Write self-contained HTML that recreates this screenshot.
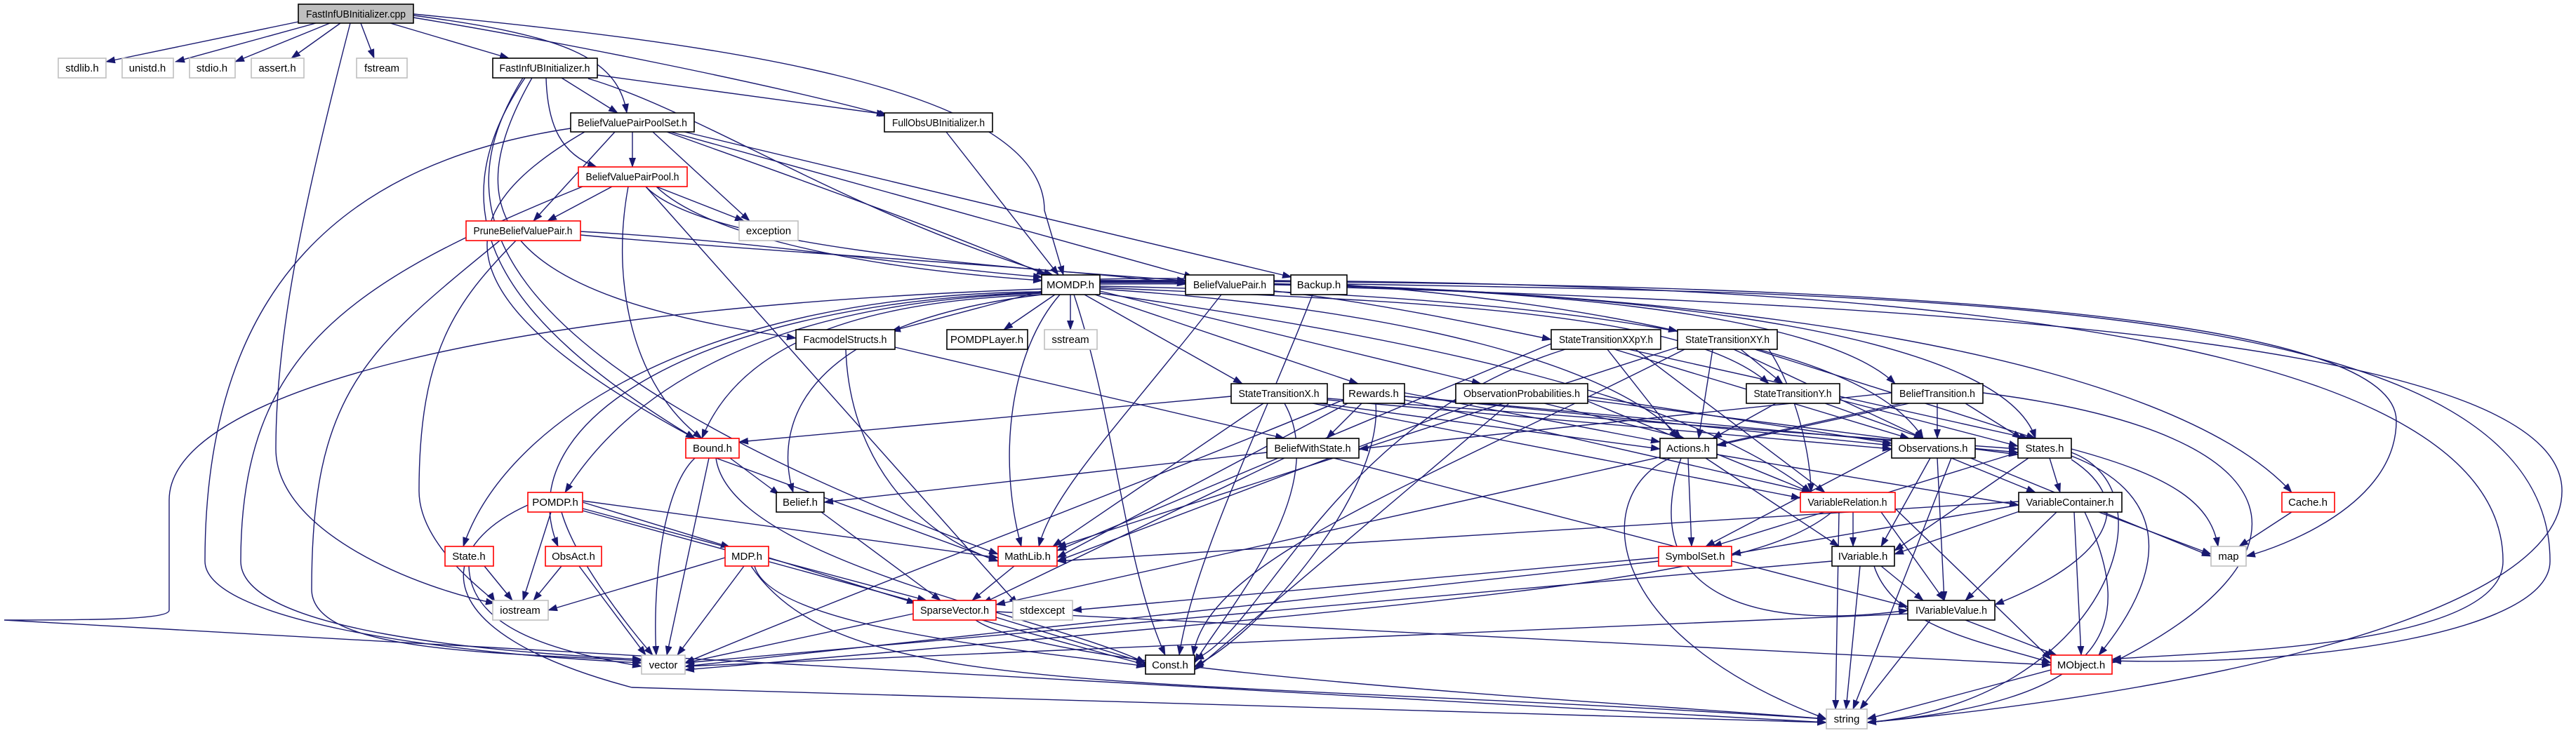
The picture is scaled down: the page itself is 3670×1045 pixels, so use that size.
<!DOCTYPE html>
<html><head><meta charset="utf-8">
<style>
html,body{margin:0;padding:0;background:#fff;}
svg{display:block;}
text{font-family:"Liberation Sans",sans-serif;font-size:15px;fill:#000;}
.e{fill:none;stroke:#191970;stroke-width:1.4;marker-end:url(#a);}
.n{fill:#fff;stroke:#000;stroke-width:1.6;}
.r{fill:#fff;stroke:#ff0000;stroke-width:1.6;}
.g{fill:#fff;stroke:#bfbfbf;stroke-width:1.6;}
</style></head><body>
<svg width="3670" height="1045" viewBox="0 0 3670 1045" xmlns="http://www.w3.org/2000/svg">
<defs><marker id="a" markerWidth="14" markerHeight="10" refX="13" refY="5" orient="auto" markerUnits="userSpaceOnUse"><path d="M0,0 L14,5 L0,10 z" fill="#191970"/></marker></defs>
<g>
<path class="e" d="M430,30 L151,88"/>
<path class="e" d="M450,33 L250,88"/>
<path class="e" d="M470,33 L335,88"/>
<path class="e" d="M485,33 L415,83"/>
<path class="e" d="M514,33 L533,83"/>
<path class="e" d="M556,33 L725,83"/>
<path class="e" d="M589,22 C800,50 880,80 893,161"/>
<path class="e" d="M589,25 C800,60 1100,120 1265,165"/>
<path class="e" d="M589,20 C1000,60 1488,120 1488,300 L1515,392"/>
<path class="e" d="M499,33 C430,300 393,480 393,640 C393,760 600,840 705,860"/>
<path class="e" d="M800,111 L880,161"/>
<path class="e" d="M851,107 L1262,163"/>
<path class="e" d="M838,112 C1000,160 1200,300 1500,392"/>
<path class="e" d="M778,111 C780,180 800,220 850,238"/>
<path class="e" d="M748,111 C620,300 700,450 990,625"/>
<path class="e" d="M758,111 C650,300 700,420 1134,482"/>
<path class="e" d="M745,111 C640,280 640,500 1422,790"/>
<path class="e" d="M901,188 L901,238"/>
<path class="e" d="M876,188 L760,315"/>
<path class="e" d="M930,188 L1068,315"/>
<path class="e" d="M935,266 L1060,315"/>
<path class="e" d="M950,188 C1150,260 1350,330 1490,392"/>
<path class="e" d="M955,188 L1700,395"/>
<path class="e" d="M975,188 L1840,395"/>
<path class="e" d="M813,183 C500,230 292,400 292,800 C292,880 600,930 914,945"/>
<path class="e" d="M833,188 C640,300 610,420 990,625"/>
<path class="e" d="M872,266 L780,315"/>
<path class="e" d="M935,266 C1000,330 1200,380 1485,400"/>
<path class="e" d="M920,266 C1000,350 1400,380 1690,400"/>
<path class="e" d="M830,266 C500,400 343,500 343,800 C343,900 700,930 914,940"/>
<path class="e" d="M895,266 C870,400 900,550 1000,625"/>
<path class="e" d="M920,266 L1450,862"/>
<path class="e" d="M827,330 C1100,345 1300,380 1485,395"/>
<path class="e" d="M827,335 C1100,360 1500,380 1690,405"/>
<path class="e" d="M735,343 C650,430 597,500 597,700 C597,780 700,850 705,858"/>
<path class="e" d="M712,343 C520,500 444,560 444,840 C444,930 700,930 914,942"/>
<path class="e" d="M1348,188 L1508,392"/>
<path class="e" d="M1484,415 L1270,472"/>
<path class="e" d="M1503,420 L1430,470"/>
<path class="e" d="M1525,420 L1525,470"/>
<path class="e" d="M1567,400 C1800,400 2000,440 2210,484"/>
<path class="e" d="M1567,398 C1900,390 2200,430 2390,472"/>
<path class="e" d="M1545,420 L1770,547"/>
<path class="e" d="M1560,420 L1935,547"/>
<path class="e" d="M1567,415 L2110,547"/>
<path class="e" d="M1567,410 C2000,430 2400,440 2520,547"/>
<path class="e" d="M1567,405 C2200,400 2600,450 2700,547"/>
<path class="e" d="M1567,412 C2000,440 2300,520 2395,625"/>
<path class="e" d="M1567,408 C2200,420 2650,480 2740,625"/>
<path class="e" d="M1567,403 C2300,400 2850,470 2900,625"/>
<path class="e" d="M1484,420 C1200,430 1050,500 1000,625"/>
<path class="e" d="M1484,420 C1150,460 1100,600 1130,702"/>
<path class="e" d="M1484,418 C1100,430 900,550 805,702"/>
<path class="e" d="M1484,416 C1000,420 720,600 660,779"/>
<path class="e" d="M1484,417 C1000,430 720,600 795,779"/>
<path class="e" d="M1510,420 C1440,500 1420,650 1455,779"/>
<path class="e" d="M1484,412 C700,440 241,560 241,713 L241,870 C241,884 120,884 6,884 L2602,1030"/>
<path class="e" d="M1567,418 C2000,480 2400,560 2580,702"/>
<path class="e" d="M1567,402 C2500,400 3100,520 3265,702"/>
<path class="e" d="M1567,401 C2500,400 3414,430 3414,600 C3414,720 3250,780 3200,793"/>
<path class="e" d="M1567,400 C2500,395 3566,440 3566,800 C3566,930 3100,930 3009,940"/>
<path class="e" d="M1530,420 C1590,600 1600,800 1660,934"/>
<path class="e" d="M1740,420 C1600,600 1500,700 1480,779"/>
<path class="e" d="M1919,405 C2800,420 3633,430 3633,800 C3633,900 3300,950 3009,942"/>
<path class="e" d="M1919,410 C2900,440 3650,500 3650,700 C3650,900 3000,1000 2660,1030"/>
<path class="e" d="M1870,420 C1800,600 1700,800 1680,934"/>
<path class="e" d="M1205,498 C1210,650 1300,760 1422,800"/>
<path class="e" d="M1275,495 L1830,625"/>
<path class="e" d="M2290,498 L2390,625"/>
<path class="e" d="M2300,498 L2720,625"/>
<path class="e" d="M2320,498 L2890,625"/>
<path class="e" d="M2330,498 L2600,702"/>
<path class="e" d="M2210,490 L1506,785"/>
<path class="e" d="M2230,498 C1900,600 1800,900 1702,940"/>
<path class="e" d="M2440,498 L2420,625"/>
<path class="e" d="M2470,498 L2740,625"/>
<path class="e" d="M2500,498 L2900,625"/>
<path class="e" d="M2480,498 L2540,547"/>
<path class="e" d="M2520,498 C2560,560 2580,650 2580,702"/>
<path class="e" d="M2390,495 L1506,780"/>
<path class="e" d="M2400,498 C2000,700 1720,800 1700,934"/>
<path class="e" d="M1754,565 L1053,630"/>
<path class="e" d="M1880,575 L2365,640"/>
<path class="e" d="M1891,570 L2695,640"/>
<path class="e" d="M1891,568 L2875,640"/>
<path class="e" d="M1870,575 L2565,710"/>
<path class="e" d="M1800,575 L1500,779"/>
<path class="e" d="M1830,575 C1900,700 1740,880 1702,945"/>
<path class="e" d="M1940,575 L1890,625"/>
<path class="e" d="M2001,560 L2365,630"/>
<path class="e" d="M2001,565 L2695,635"/>
<path class="e" d="M2001,565 L2875,645"/>
<path class="e" d="M2001,570 L2580,702"/>
<path class="e" d="M1920,575 L1506,795"/>
<path class="e" d="M1960,575 C1970,700 1800,900 1702,950"/>
<path class="e" d="M1914,570 C1600,700 1200,850 976,945"/>
<path class="e" d="M2200,575 L2400,625"/>
<path class="e" d="M2262,565 L2695,632"/>
<path class="e" d="M2262,570 L2875,648"/>
<path class="e" d="M2262,572 L2580,702"/>
<path class="e" d="M2100,575 L1506,800"/>
<path class="e" d="M2150,575 L1702,955"/>
<path class="e" d="M2530,575 L2440,625"/>
<path class="e" d="M2600,575 L2740,625"/>
<path class="e" d="M2621,570 L2875,636"/>
<path class="e" d="M2695,560 L1936,640"/>
<path class="e" d="M2720,575 L2446,635"/>
<path class="e" d="M2760,575 L2760,625"/>
<path class="e" d="M2800,575 L2880,625"/>
<path class="e" d="M2710,575 L1419,862"/>
<path class="e" d="M2825,560 C3300,620 3300,800 3009,945"/>
<path class="e" d="M1805,645 L1174,716"/>
<path class="e" d="M1830,653 L1400,860"/>
<path class="e" d="M1900,653 L2718,865"/>
<path class="e" d="M1040,653 L1110,705"/>
<path class="e" d="M1010,653 L950,934"/>
<path class="e" d="M1020,653 L1422,800"/>
<path class="e" d="M1020,653 C1040,800 1500,880 1632,945"/>
<path class="e" d="M990,653 C940,700 930,850 935,934"/>
<path class="e" d="M1170,730 L1340,856"/>
<path class="e" d="M785,730 L745,856"/>
<path class="e" d="M800,730 C820,800 900,900 930,934"/>
<path class="e" d="M830,716 L1040,780"/>
<path class="e" d="M830,725 L1320,856"/>
<path class="e" d="M830,728 L1640,950"/>
<path class="e" d="M830,714 L1422,795"/>
<path class="e" d="M752,720 C620,780 600,900 900,980 L2602,1030"/>
<path class="e" d="M690,807 L730,856"/>
<path class="e" d="M668,807 C670,900 800,930 914,950"/>
<path class="e" d="M800,807 L760,856"/>
<path class="e" d="M825,807 L920,934"/>
<path class="e" d="M1033,795 L781,870"/>
<path class="e" d="M1060,807 L965,934"/>
<path class="e" d="M1095,795 L1305,860"/>
<path class="e" d="M1075,807 C1100,900 1500,930 1632,950"/>
<path class="e" d="M1070,807 C1200,1000 1600,960 2602,1025"/>
<path class="e" d="M1445,807 L1385,856"/>
<path class="e" d="M1301,875 L976,945"/>
<path class="e" d="M1419,880 L1632,945"/>
<path class="e" d="M1390,884 C1500,960 2300,1000 2602,1025"/>
<path class="e" d="M1419,872 L2922,948"/>
<path class="e" d="M2405,653 L2410,779"/>
<path class="e" d="M2430,653 L2620,779"/>
<path class="e" d="M2380,653 C2270,700 2270,900 2602,1025"/>
<path class="e" d="M2446,648 L2876,720"/>
<path class="e" d="M2395,653 C2330,850 2500,900 2718,870"/>
<path class="e" d="M2695,640 L2430,779"/>
<path class="e" d="M2750,653 L2680,779"/>
<path class="e" d="M2760,653 L2770,856"/>
<path class="e" d="M2780,653 L2640,1011"/>
<path class="e" d="M2780,653 L2900,702"/>
<path class="e" d="M2800,650 L3150,793"/>
<path class="e" d="M2920,653 L2935,702"/>
<path class="e" d="M2875,645 L2440,779"/>
<path class="e" d="M2890,653 L2699,785"/>
<path class="e" d="M2951,655 C3050,720 3000,800 2842,862"/>
<path class="e" d="M2951,640 C3100,680 3150,720 3160,779"/>
<path class="e" d="M2951,650 C3080,700 3100,800 2990,934"/>
<path class="e" d="M2951,645 C3100,700 3000,1000 2660,1030"/>
<path class="e" d="M2640,730 L2640,779"/>
<path class="e" d="M2680,730 L2770,856"/>
<path class="e" d="M2700,725 L2922,940"/>
<path class="e" d="M2620,730 L2615,1011"/>
<path class="e" d="M2610,730 C2500,820 2200,850 976,955"/>
<path class="e" d="M2876,720 L2467,790"/>
<path class="e" d="M2930,730 L2800,856"/>
<path class="e" d="M2955,730 L2965,934"/>
<path class="e" d="M2990,730 L3150,790"/>
<path class="e" d="M2970,730 C3050,900 3000,1000 2660,1030"/>
<path class="e" d="M2876,715 L1506,800"/>
<path class="e" d="M2880,728 L2699,790"/>
<path class="e" d="M2363,800 L976,950"/>
<path class="e" d="M2363,795 L1528,870"/>
<path class="e" d="M2680,807 L2740,856"/>
<path class="e" d="M2650,807 L2630,1011"/>
<path class="e" d="M2670,807 C2700,900 2850,920 2922,945"/>
<path class="e" d="M2610,800 L976,945"/>
<path class="e" d="M2800,884 L2930,934"/>
<path class="e" d="M2750,884 L2650,1011"/>
<path class="e" d="M2718,875 L976,950"/>
<path class="e" d="M2922,955 L2660,1025"/>
<path class="e" d="M3265,730 L3190,779"/>
</g>
<g>
<rect x="425" y="6" width="164" height="27" fill="#bfbfbf" stroke="#000" stroke-width="1.6"/><text x="507" y="25" text-anchor="middle" textLength="142" lengthAdjust="spacingAndGlyphs">FastInfUBInitializer.cpp</text>
<rect class="g" x="83" y="83" width="68" height="28"/><text x="117" y="102" text-anchor="middle">stdlib.h</text>
<rect class="g" x="174" y="83" width="73" height="28"/><text x="210" y="102" text-anchor="middle">unistd.h</text>
<rect class="g" x="270" y="83" width="65" height="28"/><text x="302" y="102" text-anchor="middle">stdio.h</text>
<rect class="g" x="358" y="83" width="75" height="28"/><text x="395" y="102" text-anchor="middle">assert.h</text>
<rect class="g" x="508" y="83" width="72" height="28"/><text x="544" y="102" text-anchor="middle">fstream</text>
<rect class="n" x="702" y="83" width="149" height="28"/><text x="776" y="102" text-anchor="middle" textLength="129" lengthAdjust="spacingAndGlyphs">FastInfUBInitializer.h</text>
<rect class="n" x="813" y="161" width="176" height="27"/><text x="901" y="180" text-anchor="middle" textLength="156" lengthAdjust="spacingAndGlyphs">BeliefValuePairPoolSet.h</text>
<rect class="n" x="1260" y="161" width="154" height="27"/><text x="1337" y="180" text-anchor="middle" textLength="132" lengthAdjust="spacingAndGlyphs">FullObsUBInitializer.h</text>
<rect class="r" x="824" y="238" width="155" height="28"/><text x="901" y="257" text-anchor="middle" textLength="133" lengthAdjust="spacingAndGlyphs">BeliefValuePairPool.h</text>
<rect class="r" x="664" y="315" width="163" height="28"/><text x="745" y="334" text-anchor="middle" textLength="141" lengthAdjust="spacingAndGlyphs">PruneBeliefValuePair.h</text>
<rect class="g" x="1053" y="315" width="84" height="28"/><text x="1095" y="334" text-anchor="middle">exception</text>
<rect class="n" x="1484" y="392" width="83" height="28"/><text x="1525" y="411" text-anchor="middle">MOMDP.h</text>
<rect class="n" x="1689" y="392" width="126" height="28"/><text x="1752" y="411" text-anchor="middle" textLength="104" lengthAdjust="spacingAndGlyphs">BeliefValuePair.h</text>
<rect class="n" x="1839" y="392" width="80" height="28"/><text x="1879" y="411" text-anchor="middle">Backup.h</text>
<rect class="n" x="1134" y="470" width="141" height="28"/><text x="1204" y="489" text-anchor="middle" textLength="119" lengthAdjust="spacingAndGlyphs">FacmodelStructs.h</text>
<rect class="n" x="1349" y="470" width="115" height="28"/><text x="1406" y="489" text-anchor="middle">POMDPLayer.h</text>
<rect class="g" x="1488" y="470" width="75" height="28"/><text x="1525" y="489" text-anchor="middle">sstream</text>
<rect class="n" x="2210" y="470" width="156" height="28"/><text x="2288" y="489" text-anchor="middle" textLength="134" lengthAdjust="spacingAndGlyphs">StateTransitionXXpY.h</text>
<rect class="n" x="2390" y="470" width="142" height="28"/><text x="2461" y="489" text-anchor="middle" textLength="120" lengthAdjust="spacingAndGlyphs">StateTransitionXY.h</text>
<rect class="n" x="1754" y="547" width="137" height="28"/><text x="1822" y="566" text-anchor="middle" textLength="115" lengthAdjust="spacingAndGlyphs">StateTransitionX.h</text>
<rect class="n" x="1914" y="547" width="87" height="28"/><text x="1957" y="566" text-anchor="middle">Rewards.h</text>
<rect class="n" x="2074" y="547" width="188" height="28"/><text x="2168" y="566" text-anchor="middle" textLength="166" lengthAdjust="spacingAndGlyphs">ObservationProbabilities.h</text>
<rect class="n" x="2488" y="547" width="133" height="28"/><text x="2554" y="566" text-anchor="middle" textLength="111" lengthAdjust="spacingAndGlyphs">StateTransitionY.h</text>
<rect class="n" x="2695" y="547" width="130" height="28"/><text x="2760" y="566" text-anchor="middle" textLength="108" lengthAdjust="spacingAndGlyphs">BeliefTransition.h</text>
<rect class="r" x="977" y="625" width="76" height="28"/><text x="1015" y="644" text-anchor="middle">Bound.h</text>
<rect class="n" x="1805" y="625" width="131" height="28"/><text x="1870" y="644" text-anchor="middle" textLength="109" lengthAdjust="spacingAndGlyphs">BeliefWithState.h</text>
<rect class="n" x="2365" y="625" width="81" height="28"/><text x="2405" y="644" text-anchor="middle">Actions.h</text>
<rect class="n" x="2695" y="625" width="119" height="28"/><text x="2754" y="644" text-anchor="middle" textLength="99" lengthAdjust="spacingAndGlyphs">Observations.h</text>
<rect class="n" x="2875" y="625" width="76" height="28"/><text x="2913" y="644" text-anchor="middle">States.h</text>
<rect class="r" x="752" y="702" width="78" height="28"/><text x="791" y="721" text-anchor="middle">POMDP.h</text>
<rect class="n" x="1106" y="702" width="68" height="28"/><text x="1140" y="721" text-anchor="middle">Belief.h</text>
<rect class="r" x="2565" y="702" width="135" height="28"/><text x="2632" y="721" text-anchor="middle" textLength="113" lengthAdjust="spacingAndGlyphs">VariableRelation.h</text>
<rect class="n" x="2876" y="702" width="147" height="28"/><text x="2949" y="721" text-anchor="middle" textLength="125" lengthAdjust="spacingAndGlyphs">VariableContainer.h</text>
<rect class="r" x="3251" y="702" width="75" height="28"/><text x="3288" y="721" text-anchor="middle">Cache.h</text>
<rect class="r" x="634" y="779" width="69" height="28"/><text x="668" y="798" text-anchor="middle">State.h</text>
<rect class="r" x="777" y="779" width="80" height="28"/><text x="817" y="798" text-anchor="middle">ObsAct.h</text>
<rect class="r" x="1033" y="779" width="62" height="28"/><text x="1064" y="798" text-anchor="middle">MDP.h</text>
<rect class="r" x="1422" y="779" width="84" height="28"/><text x="1464" y="798" text-anchor="middle">MathLib.h</text>
<rect class="r" x="2363" y="779" width="104" height="28"/><text x="2415" y="798" text-anchor="middle">SymbolSet.h</text>
<rect class="n" x="2610" y="779" width="89" height="28"/><text x="2654" y="798" text-anchor="middle">IVariable.h</text>
<rect class="g" x="3150" y="779" width="50" height="28"/><text x="3175" y="798" text-anchor="middle">map</text>
<rect class="g" x="702" y="856" width="79" height="28"/><text x="741" y="875" text-anchor="middle">iostream</text>
<rect class="r" x="1301" y="856" width="118" height="28"/><text x="1360" y="875" text-anchor="middle" textLength="98" lengthAdjust="spacingAndGlyphs">SparseVector.h</text>
<rect class="g" x="1443" y="856" width="85" height="28"/><text x="1485" y="875" text-anchor="middle">stdexcept</text>
<rect class="n" x="2718" y="856" width="124" height="28"/><text x="2780" y="875" text-anchor="middle" textLength="102" lengthAdjust="spacingAndGlyphs">IVariableValue.h</text>
<rect class="g" x="914" y="934" width="62" height="27"/><text x="945" y="953" text-anchor="middle">vector</text>
<rect class="n" x="1632" y="934" width="70" height="27"/><text x="1667" y="953" text-anchor="middle">Const.h</text>
<rect class="r" x="2922" y="934" width="87" height="27"/><text x="2965" y="953" text-anchor="middle">MObject.h</text>
<rect class="g" x="2602" y="1011" width="58" height="28"/><text x="2631" y="1030" text-anchor="middle">string</text>
</g>
</svg>
</body></html>
